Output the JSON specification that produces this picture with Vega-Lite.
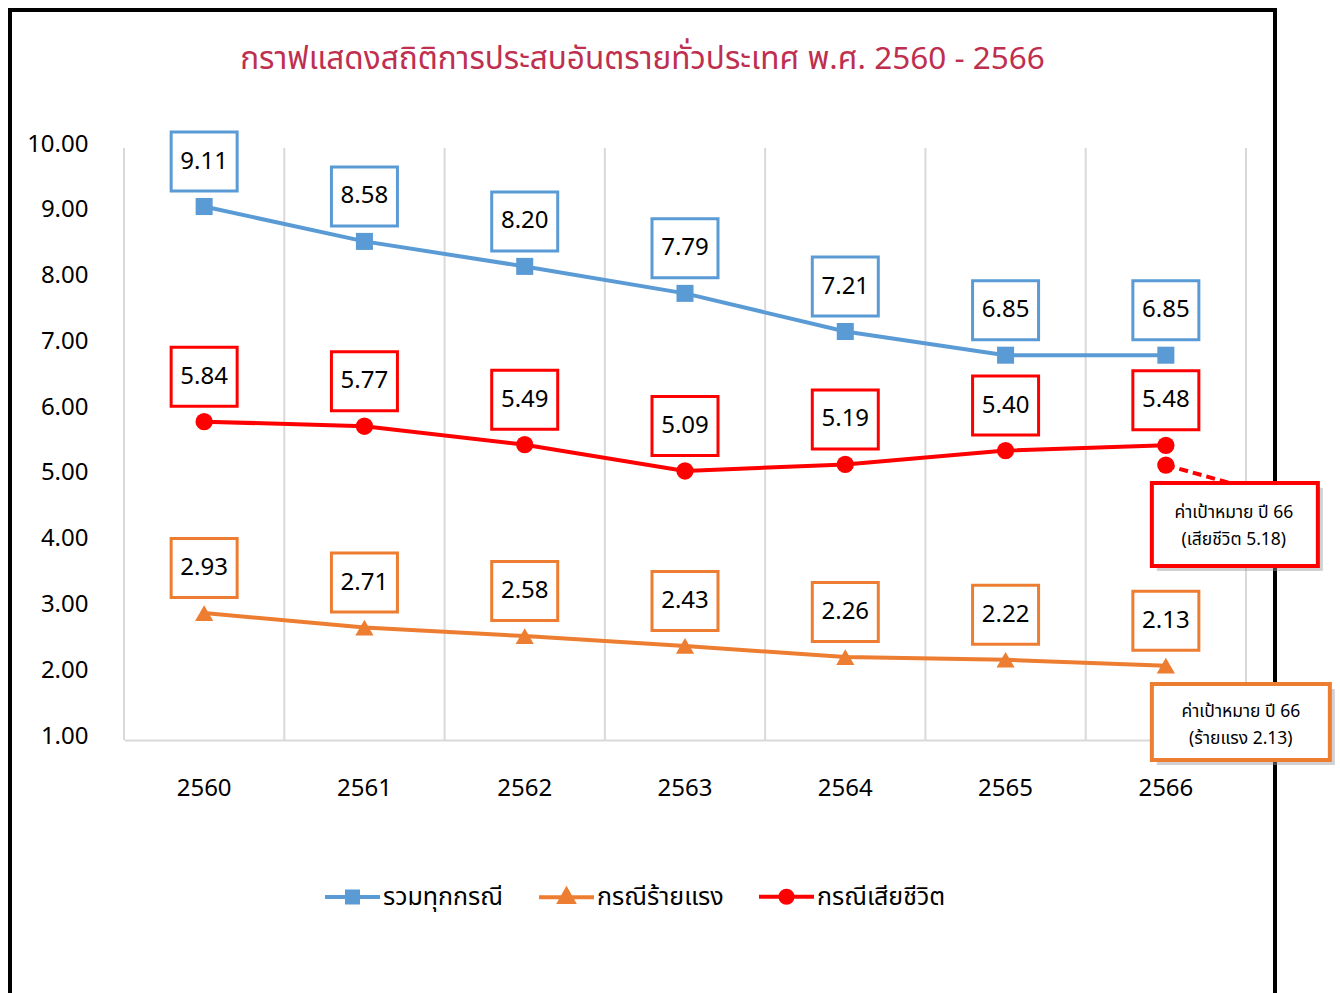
{
  "$schema": "https://vega.github.io/schema/vega-lite/v6.json",
  "width": 1265,
  "height": 1000,
  "autosize": {"type": "none"},
  "padding": {"left": 10, "top": 10, "right": 65, "bottom": 0},
  "background": "white",
  "config": {
    "view": {"stroke": "#000000", "strokeWidth": 4},
    "font": "Noto Sans"
  },
  "title": {
    "text": "กราฟแสดงสถิติการประสบอันตรายทั่วประเทศ พ.ศ. 2560 - 2566",
    "anchor": "middle",
    "frame": "group",
    "offset": -65,
    "fontSize": 31.5,
    "fontWeight": "normal",
    "font": "Noto Sans Thai, Noto Sans, sans-serif",
    "color": "#BE2F50"
  },
  "datasets": {
    "main": [
      {"year": "2560", "series": "รวมทุกกรณี", "value": 9.11},
      {"year": "2561", "series": "รวมทุกกรณี", "value": 8.58},
      {"year": "2562", "series": "รวมทุกกรณี", "value": 8.20},
      {"year": "2563", "series": "รวมทุกกรณี", "value": 7.79},
      {"year": "2564", "series": "รวมทุกกรณี", "value": 7.21},
      {"year": "2565", "series": "รวมทุกกรณี", "value": 6.85},
      {"year": "2566", "series": "รวมทุกกรณี", "value": 6.85},
      {"year": "2560", "series": "กรณีร้ายแรง", "value": 2.93},
      {"year": "2561", "series": "กรณีร้ายแรง", "value": 2.71},
      {"year": "2562", "series": "กรณีร้ายแรง", "value": 2.58},
      {"year": "2563", "series": "กรณีร้ายแรง", "value": 2.43},
      {"year": "2564", "series": "กรณีร้ายแรง", "value": 2.26},
      {"year": "2565", "series": "กรณีร้ายแรง", "value": 2.22},
      {"year": "2566", "series": "กรณีร้ายแรง", "value": 2.13},
      {"year": "2560", "series": "กรณีเสียชีวิต", "value": 5.84},
      {"year": "2561", "series": "กรณีเสียชีวิต", "value": 5.77},
      {"year": "2562", "series": "กรณีเสียชีวิต", "value": 5.49},
      {"year": "2563", "series": "กรณีเสียชีวิต", "value": 5.09},
      {"year": "2564", "series": "กรณีเสียชีวิต", "value": 5.19},
      {"year": "2565", "series": "กรณีเสียชีวิต", "value": 5.40},
      {"year": "2566", "series": "กรณีเสียชีวิต", "value": 5.48}
    ],
    "years": [
      {"year": "2560", "value": 10, "value2": 1},
      {"year": "2561", "value": 10, "value2": 1},
      {"year": "2562", "value": 10, "value2": 1},
      {"year": "2563", "value": 10, "value2": 1},
      {"year": "2564", "value": 10, "value2": 1},
      {"year": "2565", "value": 10, "value2": 1},
      {"year": "2566", "value": 10, "value2": 1}
    ],
    "lastYear": [{"year": "2566", "value": 10, "value2": 1}],
    "target": [
      {"year": "2566", "value": 5.18, "value2": 4.89}
    ],
    "annRed": [
      {"year": "2566", "value": 4.275, "lines": ["ค่าเป้าหมาย ปี 66", "(เสียชีวิต 5.18)"]}
    ],
    "annOrange": [
      {"year": "2566", "value": 1.274, "lines": ["ค่าเป้าหมาย ปี 66", "(ร้ายแรง 2.13)"]}
    ]
  },
  "encoding": {
    "x": {
      "field": "year",
      "type": "ordinal",
      "scale": {
        "type": "band",
        "domain": ["2560", "2561", "2562", "2563", "2564", "2565", "2566"],
        "range": [114, 1236],
        "paddingInner": 0,
        "paddingOuter": 0
      },
      "axis": {
        "title": null,
        "orient": "bottom",
        "offset": -270,
        "labelAngle": 0,
        "labelFontSize": 24,
        "labelFont": "Noto Sans",
        "labelColor": "#000000",
        "labelPadding": 36,
        "ticks": false,
        "domainColor": "#d9d9d9",
        "domainWidth": 2,
        "grid": false
      }
    },
    "y": {
      "field": "value",
      "type": "quantitative",
      "scale": {"domain": [1, 10], "range": [730, 138], "nice": false, "zero": false},
      "axis": {
        "title": null,
        "offset": -114,
        "values": [1, 2, 3, 4, 5, 6, 7, 8, 9, 10],
        "format": ".2f",
        "labelFontSize": 24,
        "labelFont": "Noto Sans",
        "labelColor": "#000000",
        "labelPadding": 36,
        "labelOffset": -4,
        "ticks": false,
        "domain": false,
        "grid": false
      }
    }
  },
  "layer": [
    {
      "data": {"name": "years"},
      "mark": {"type": "rule", "color": "#d9d9d9", "strokeWidth": 2},
      "encoding": {
        "x": {"field": "year", "type": "ordinal", "bandPosition": 0},
        "y2": {"field": "value2"}
      }
    },
    {
      "data": {"name": "lastYear"},
      "mark": {"type": "rule", "color": "#d9d9d9", "strokeWidth": 2},
      "encoding": {
        "x": {"field": "year", "type": "ordinal", "bandPosition": 1},
        "y2": {"field": "value2"}
      }
    },
    {
      "data": {"name": "main"},
      "mark": {"type": "line", "strokeWidth": 4},
      "encoding": {
        "color": {
          "field": "series",
          "type": "nominal",
          "scale": {
            "domain": ["รวมทุกกรณี", "กรณีร้ายแรง", "กรณีเสียชีวิต"],
            "range": ["#5B9BD5", "#ED7D31", "#FF0000"]
          },
          "legend": {
            "title": null,
            "orient": "none",
            "direction": "horizontal",
            "legendX": 313,
            "legendY": 857,
            "padding": 0,
            "symbolSize": 3025,
            "symbolStrokeWidth": 4,
            "symbolOpacity": 1,
            "labelFontSize": 25,
            "labelFont": "Noto Sans Thai, Noto Sans, sans-serif",
            "labelColor": "#000000",
            "labelLimit": 300,
            "labelOffset": 1,
            "columnPadding": 27,
            "encode": {
              "symbols": {
                "update": {
                  "shape": {"signal": "datum.value === 'รวมทุกกรณี' ? 'M-1,0H1M-0.2,-0.2H0.2V0.2H-0.2Z' : datum.value === 'กรณีร้ายแรง' ? 'M-1,0H1M0,-0.27L0.25,0.17H-0.25Z' : 'M-1,0H1M-0.22,0A0.22,0.22,0,1,1,0.22,0A0.22,0.22,0,1,1,-0.22,0Z'"},
                  "strokeWidth": {"value": 4}
                }
              }
            }
          }
        }
      }
    },
    {
      "data": {"name": "main"},
      "transform": [{"filter": "datum.series === 'รวมทุกกรณี'"}],
      "mark": {"type": "point", "shape": "square", "filled": true, "opacity": 1, "size": 290},
      "encoding": {"color": {"field": "series", "type": "nominal"}}
    },
    {
      "data": {"name": "main"},
      "transform": [{"filter": "datum.series === 'กรณีร้ายแรง'"}],
      "mark": {"type": "point", "shape": "triangle-up", "filled": true, "opacity": 1, "size": 330},
      "encoding": {"color": {"field": "series", "type": "nominal"}}
    },
    {
      "data": {"name": "main"},
      "transform": [{"filter": "datum.series === 'กรณีเสียชีวิต'"}],
      "mark": {"type": "point", "shape": "circle", "filled": true, "opacity": 1, "size": 300},
      "encoding": {"color": {"field": "series", "type": "nominal"}}
    },
    {
      "data": {"name": "main"},
      "mark": {
        "type": "point",
        "shape": "M-1,-0.894H1V0.894H-1Z",
        "size": 4356,
        "filled": false,
        "fill": "white",
        "fillOpacity": 1,
        "opacity": 1,
        "strokeWidth": 3,
        "yOffset": -45
      },
      "encoding": {
        "stroke": {"field": "series", "type": "nominal", "scale": {"domain": ["รวมทุกกรณี", "กรณีร้ายแรง", "กรณีเสียชีวิต"], "range": ["#5B9BD5", "#ED7D31", "#FF0000"]}, "legend": null}
      }
    },
    {
      "data": {"name": "main"},
      "mark": {
        "type": "text",
        "dy": -45,
        "fontSize": 24,
        "font": "Noto Sans",
        "color": "#000000",
        "baseline": "middle",
        "align": "center"
      },
      "encoding": {
        "text": {"field": "value", "type": "quantitative", "format": ".2f"}
      }
    },
    {
      "data": {"name": "target"},
      "mark": {"type": "rule", "color": "#FF0000", "strokeWidth": 4, "strokeDash": [9, 5], "x2Offset": 68},
      "encoding": {
        "x": {"field": "year", "type": "ordinal", "bandPosition": 0.5},
        "x2": {"field": "year", "bandPosition": 0.5},
        "y2": {"field": "value2"}
      }
    },
    {
      "data": {"name": "target"},
      "mark": {"type": "point", "shape": "circle", "filled": true, "opacity": 1, "size": 300, "color": "#FF0000"}
    },
    {
      "data": {"name": "annRed"},
      "mark": {"type": "point", "shape": "M-1,-0.5H1V0.5H-1Z", "size": 27556, "filled": true, "color": "#9a9a9a", "opacity": 0.45, "xOffset": 74, "yOffset": 5}
    },
    {
      "data": {"name": "annRed"},
      "mark": {"type": "point", "shape": "M-1,-0.5H1V0.5H-1Z", "size": 27556, "filled": false, "fill": "white", "fillOpacity": 1, "opacity": 1, "stroke": "#FF0000", "strokeWidth": 4, "xOffset": 69}
    },
    {
      "data": {"name": "annRed"},
      "mark": {"type": "text", "fontSize": 17.5, "lineHeight": 27, "font": "Noto Sans Thai, Noto Sans, sans-serif", "color": "#000000", "align": "center", "baseline": "middle", "xOffset": 68, "dy": -12},
      "encoding": {"text": {"field": "lines"}}
    },
    {
      "data": {"name": "annOrange"},
      "mark": {"type": "point", "shape": "M-1,-0.427H1V0.427H-1Z", "size": 31684, "filled": true, "color": "#9a9a9a", "opacity": 0.45, "xOffset": 80, "yOffset": 5}
    },
    {
      "data": {"name": "annOrange"},
      "mark": {"type": "point", "shape": "M-1,-0.427H1V0.427H-1Z", "size": 31684, "filled": false, "fill": "white", "fillOpacity": 1, "opacity": 1, "stroke": "#ED7D31", "strokeWidth": 4, "xOffset": 75}
    },
    {
      "data": {"name": "annOrange"},
      "mark": {"type": "text", "fontSize": 17.5, "lineHeight": 27, "font": "Noto Sans Thai, Noto Sans, sans-serif", "color": "#000000", "align": "center", "baseline": "middle", "xOffset": 75, "dy": -10},
      "encoding": {"text": {"field": "lines"}}
    }
  ]
}
